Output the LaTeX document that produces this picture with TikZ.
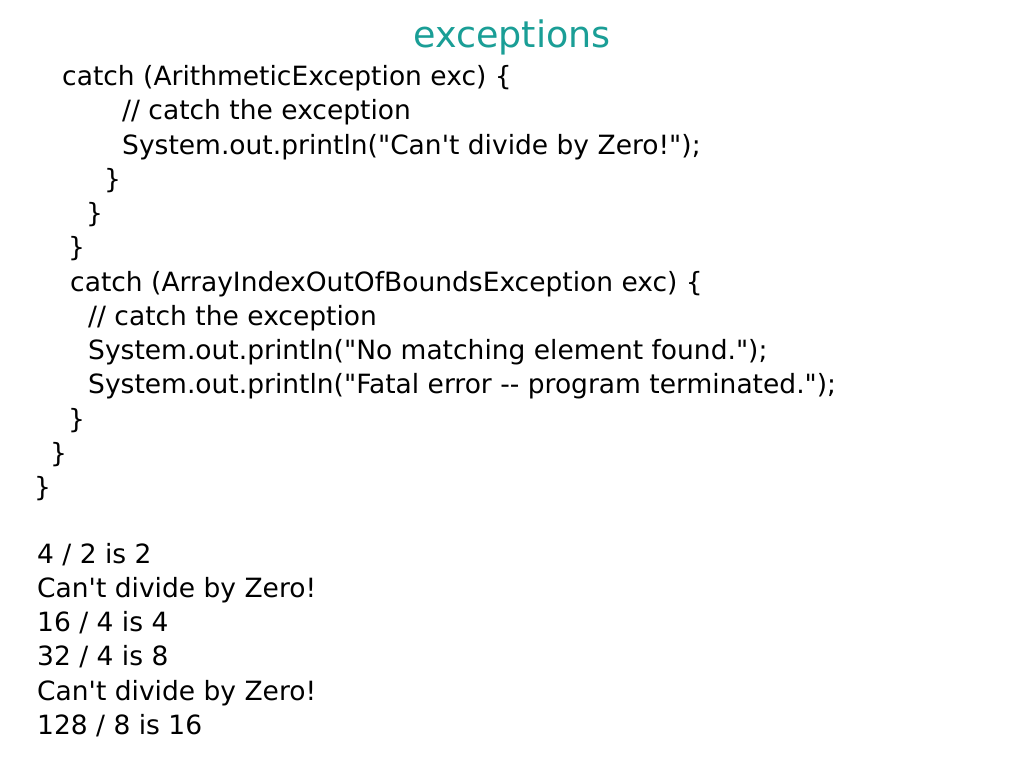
\documentclass[tikz,border=0pt]{standalone}
\usepackage{fontspec}
\newfontfamily\slidefont{DejaVu Sans}
\definecolor{titleteal}{HTML}{1A9E96}
\tikzset{
  code/.style={anchor=base west, inner sep=0pt, font=\slidefont\fontsize{26.5}{30}\selectfont},
  heading/.style={anchor=base, inner sep=0pt, text=titleteal, font=\slidefont\fontsize{36.5}{40}\selectfont}
}
\begin{document}
\begin{tikzpicture}[x=1pt, y=-1pt]
\useasboundingbox[fill=white] (0,0) rectangle (1024,768);
\node[heading] (title) at (512,48) {exceptions};
% first handler
\node[code] (L_1) at (62,85) {catch (ArithmeticException exc) \{};
\node[code] (L_2) at (122,119) {// catch the exception};
\node[code] (L_3) at (122,154) {System.out.println("Can't divide by Zero!");};
\node[code] (L_4) at (104,188) {\}};
\node[code] (L_5) at (86,222) {\}};
\node[code] (L_6) at (68,256) {\}};
% second handler
\node[code] (L_7) at (70,291) {catch (ArrayIndexOutOfBoundsException exc) \{};
\node[code] (L_8) at (88,325) {// catch the exception};
\node[code] (L_9) at (88,359) {System.out.println("No matching element found.");};
\node[code] (L_10) at (88,393) {System.out.println("Fatal error -- program terminated.");};
\node[code] (L_11) at (68,428) {\}};
\node[code] (L_12) at (50,462) {\}};
\node[code] (L_13) at (34,496) {\}};
% program output
\node[code] (O_1) at (37,563) {4 / 2 is 2};
\node[code] (O_2) at (37,597) {Can't divide by Zero!};
\node[code] (O_3) at (37,631) {16 / 4 is 4};
\node[code] (O_4) at (37,665) {32 / 4 is 8};
\node[code] (O_5) at (37,700) {Can't divide by Zero!};
\node[code] (O_6) at (37,734) {128 / 8 is 16};
\end{tikzpicture}
\end{document}
